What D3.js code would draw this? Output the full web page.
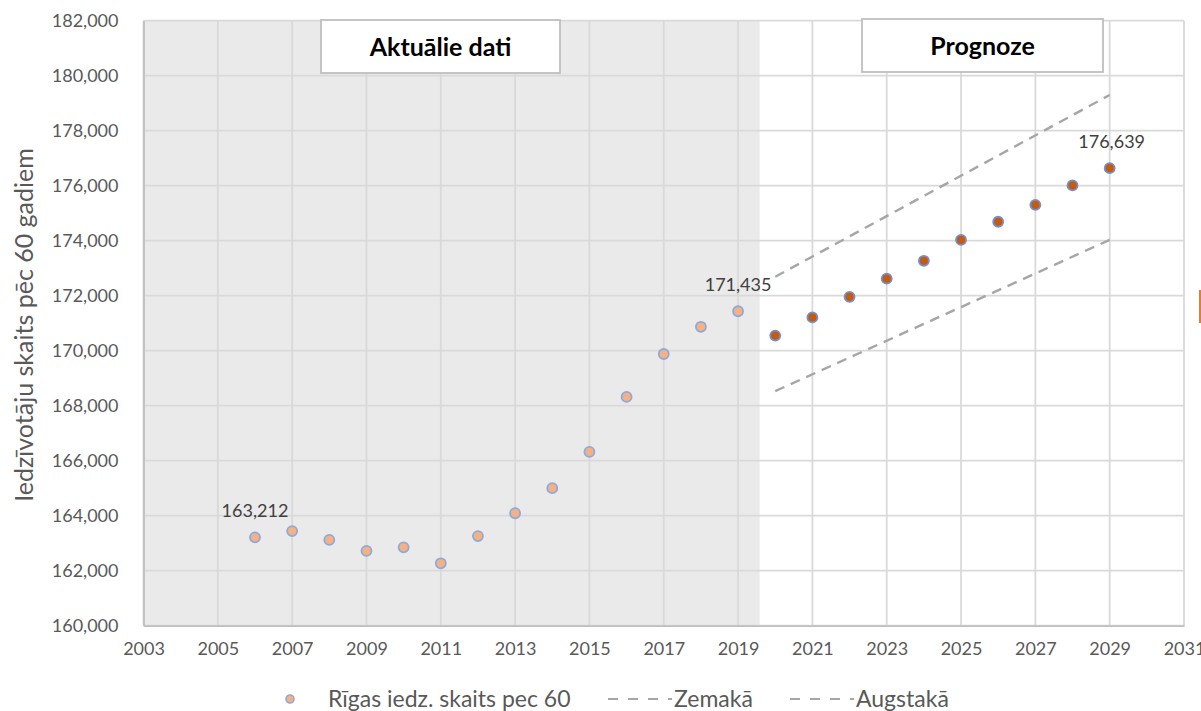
<!DOCTYPE html>
<html>
<head>
<meta charset="utf-8">
<script src="https://cdn.jsdelivr.net/npm/d3@7"></script>
<style>
  html, body { margin: 0; padding: 0; background: #fff; }
  svg { display: block; font-family: Lato, "Open Sans", sans-serif; }
</style>
</head>
<body>
<svg id="chart" width="1201" height="711"></svg>
<script>
// ---- data ----
const actualYears = [2006, 2007, 2008, 2009, 2010, 2011, 2012, 2013, 2014, 2015, 2016, 2017, 2018, 2019];
const actualValues = [163212, 163440, 163120, 162720, 162850, 162270, 163260, 164090, 165000, 166320, 168320, 169880, 170870, 171435];
const forecastYears = [2020, 2021, 2022, 2023, 2024, 2025, 2026, 2027, 2028, 2029];
const forecastValues = [170550, 171210, 171960, 172620, 173270, 174030, 174690, 175300, 176010, 176639];
const lowYears = [2020, 2029];
const lowValues = [168530, 174030];
const highYears = [2020, 2029];
const highValues = [172690, 179300];
const labeledYears = [2006, 2019, 2029];
const xTicks = [2003, 2005, 2007, 2009, 2011, 2013, 2015, 2017, 2019, 2021, 2023, 2025, 2027, 2029, 2031];
const yTicks = [160000, 162000, 164000, 166000, 168000, 170000, 172000, 174000, 176000, 178000, 180000, 182000];
const actualEndYear = 2019.58;
const panelTitles = ["Aktuālie dati", "Prognoze"];
const yTitle = "Iedzīvotāju skaits pēc 60 gadiem";
const legendLabels = ["Rīgas iedz. skaits pec 60", "Zemakā", "Augstakā"];

// ---- layout ----
const svg = d3.select("#chart");
const L = 143.5, R = 1184, T = 20.7, B = 625.7;
const x = d3.scaleLinear().domain([2003, 2031]).range([L, R]);
const y = d3.scaleLinear().domain([160000, 182000]).range([B, T]);
const fmt = d3.format(",");

// gray "actual" area
svg.append("rect")
  .attr("x", L).attr("y", T)
  .attr("width", x(actualEndYear) - L).attr("height", B - T)
  .attr("fill", "#eaeaea");

// gridlines
const grid = svg.append("g");
grid.selectAll("line.h").data(yTicks).join("line")
  .attr("x1", L).attr("x2", R)
  .attr("y1", d => y(d)).attr("y2", d => y(d))
  .attr("stroke", "#d9d9d9").attr("stroke-width", 1.8);
grid.selectAll("line.v").data(xTicks).join("line")
  .attr("x1", d => x(d)).attr("x2", d => x(d))
  .attr("y1", T).attr("y2", B)
  .attr("stroke", "#d9d9d9").attr("stroke-width", 1.8);

// axes (labels only)
const yAxis = svg.append("g")
  .attr("transform", `translate(${L},0)`)
  .call(d3.axisLeft(y).tickValues(yTicks).tickFormat(fmt).tickSize(0).tickPadding(25));
yAxis.select(".domain").attr("stroke", "#bfbfbf").attr("stroke-width", 1.8);
yAxis.selectAll("text").attr("font-size", 18).attr("fill", "#595959")
  .attr("font-family", "Lato, sans-serif");

const xAxis = svg.append("g")
  .attr("transform", `translate(0,${B})`)
  .call(d3.axisBottom(x).tickValues(xTicks).tickFormat(d3.format("d")).tickSize(0).tickPadding(17));
xAxis.select(".domain").attr("stroke", "#bfbfbf").attr("stroke-width", 1.8);
xAxis.selectAll("text").attr("font-size", 18).attr("fill", "#595959")
  .attr("font-family", "Lato, sans-serif");

// y title
svg.append("text")
  .attr("transform", `translate(33,325) rotate(-90)`)
  .attr("text-anchor", "middle")
  .attr("font-size", 25).attr("fill", "#595959")
  .text(yTitle);

// panel title boxes
const boxes = [
  { x0: 321, x1: 560, y0: 20, y1: 73 },
  { x0: 862, x1: 1103, y0: 19, y1: 72 }
];
boxes.forEach((b, i) => {
  svg.append("rect")
    .attr("x", b.x0).attr("y", b.y0)
    .attr("width", b.x1 - b.x0).attr("height", b.y1 - b.y0)
    .attr("fill", "#fff").attr("stroke", "#bfbfbf").attr("stroke-width", 1.8);
  svg.append("text")
    .attr("x", (b.x0 + b.x1) / 2).attr("y", (b.y0 + b.y1) / 2 + 9)
    .attr("text-anchor", "middle")
    .attr("font-size", 25).attr("font-weight", "bold").attr("fill", "#000")
    .text(panelTitles[i]);
});

// dashed lines
const line = d3.line().x(d => x(d[0])).y(d => y(d[1]));
[[lowYears, lowValues], [highYears, highValues]].forEach(([ys, vs]) => {
  svg.append("path")
    .datum(ys.map((yr, i) => [yr, vs[i]]))
    .attr("d", line)
    .attr("fill", "none").attr("stroke", "#a6a6a6")
    .attr("stroke-width", 2.4).attr("stroke-dasharray", "10,7");
});

// points
svg.append("g").selectAll("circle")
  .data(actualYears.map((yr, i) => [yr, actualValues[i]])).join("circle")
  .attr("cx", d => x(d[0])).attr("cy", d => y(d[1])).attr("r", 5)
  .attr("fill", "#f4b183").attr("stroke", "#8ea9db").attr("stroke-width", 1.8);
svg.append("g").selectAll("circle")
  .data(forecastYears.map((yr, i) => [yr, forecastValues[i]])).join("circle")
  .attr("cx", d => x(d[0])).attr("cy", d => y(d[1])).attr("r", 5)
  .attr("fill", "#c55a11").attr("stroke", "#7391cf").attr("stroke-width", 1.8);

// data labels
const allYears = actualYears.concat(forecastYears);
const allValues = actualValues.concat(forecastValues);
labeledYears.forEach(yr => {
  const v = allValues[allYears.indexOf(yr)];
  svg.append("text")
    .attr("x", x(yr) + (yr === 2029 ? 2 : 0)).attr("y", y(v) - 20)
    .attr("text-anchor", "middle")
    .attr("font-size", 18).attr("fill", "#404040")
    .text(fmt(v));
});

// legend
const lg = svg.append("g").attr("font-size", 23).attr("fill", "#595959");
lg.append("circle").attr("cx", 290).attr("cy", 699).attr("r", 4)
  .attr("fill", "#f4b183").attr("stroke", "#8ea9db").attr("stroke-width", 1.6);
lg.append("text").attr("x", 328).attr("y", 707).text(legendLabels[0]);
[[608, legendLabels[1]], [790, legendLabels[2]]].forEach(([lx, t]) => {
  lg.append("line").attr("x1", lx).attr("x2", lx + 64).attr("y1", 699).attr("y2", 699)
    .attr("stroke", "#a6a6a6").attr("stroke-width", 2.2).attr("stroke-dasharray", "10,10");
  lg.append("text").attr("x", lx + 66).attr("y", 707).text(t);
});

// cut-off orange mark at the right edge
svg.append("rect").attr("x", 1199).attr("y", 290).attr("width", 3).attr("height", 33)
  .attr("fill", "#e97c2c");
</script>
</body>
</html>
